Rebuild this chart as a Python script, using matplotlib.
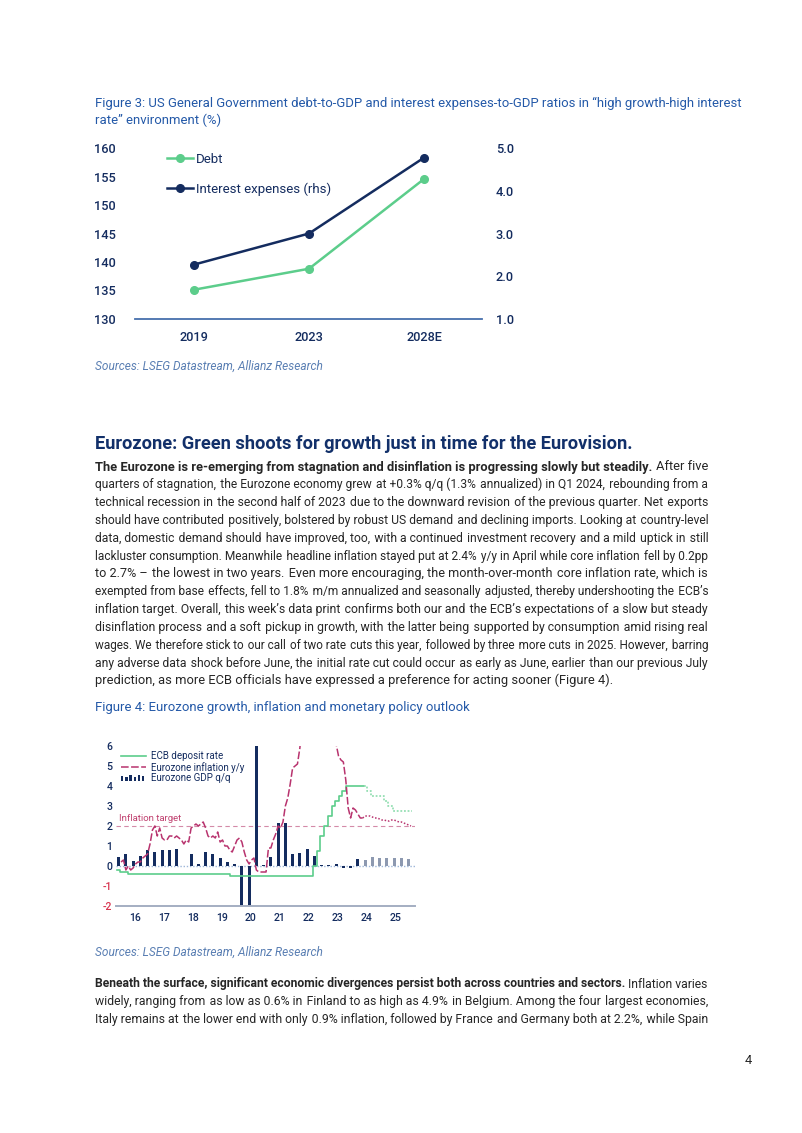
import numpy as np
import pandas as pd
import matplotlib
matplotlib.use("Agg")
import matplotlib.pyplot as plt
from matplotlib.font_manager import FontProperties
from matplotlib.legend_handler import HandlerBase
from matplotlib.patches import Rectangle
from matplotlib.lines import Line2D

# ---------------- data: Figure 3 ----------------
fig3_categories = ["2019", "2023", "2028E"]
fig3_debt = [135.1, 138.8, 154.6]            # % of GDP (lhs)
fig3_interest = [2.27, 3.0, 4.78]            # % of GDP (rhs)
fig3_left_ticks = [130, 135, 140, 145, 150, 155, 160]
fig3_right_ticks = [1.0, 2.0, 3.0, 4.0, 5.0]

# ---------------- data: Figure 4 ----------------
gdp_start, gdp_end = "2015Q4", "2024Q1"
gdp_actual = [0.47,
              0.62, 0.25, 0.50, 0.80,
              0.72, 0.80, 0.80, 0.85,
              0.00, 0.58, 0.08, 0.72,
              0.62, 0.40, 0.22, 0.10,
              -3.5, -11.6, 12.4, 0.03,
              0.47, 2.13, 2.13, 0.62,
              0.67, 0.87, 0.50, 0.05,
              0.07, 0.12, -0.10, -0.08,
              0.37]
gdp_fc_start, gdp_fc_end = "2024Q2", "2025Q4"
gdp_forecast = [0.28, 0.44, 0.42, 0.38, 0.38, 0.40, 0.37]

infl_start, infl_end = "2015-12", "2024-04"
infl_actual = [0.2,
               0.3, -0.2, 0.0, -0.2, -0.1, 0.1, 0.2, 0.2, 0.4, 0.5, 0.6, 1.1,
               1.8, 2.0, 1.5, 1.9, 1.4, 1.3, 1.3, 1.5, 1.5, 1.4, 1.5, 1.4,
               1.3, 1.1, 1.3, 1.2, 1.9, 2.0, 2.1, 2.0, 2.1, 2.2, 1.9, 1.5,
               1.4, 1.5, 1.4, 1.7, 1.2, 1.3, 1.0, 1.0, 0.8, 0.7, 1.0, 1.3,
               1.4, 1.2, 0.7, 0.3, 0.1, 0.3, 0.4, -0.2, -0.3, -0.3, -0.3, -0.3,
               0.9, 0.9, 1.3, 1.6, 2.0, 1.9, 2.2, 3.0, 3.4, 4.1, 4.9, 5.0,
               5.1, 5.9, 7.4, 7.4, 8.1, 8.6, 8.9, 9.1, 9.9, 10.6, 10.1, 9.2,
               8.6, 8.5, 6.9, 7.0, 6.1, 5.5, 5.3, 5.2, 4.3, 2.9, 2.4, 2.9,
               2.8, 2.6, 2.4, 2.4]
infl_fc_start, infl_fc_end = "2024-04", "2025-12"
infl_forecast = [2.4, 2.5, 2.5, 2.5, 2.45, 2.4, 2.4, 2.35, 2.3, 2.3, 2.25,
                 2.25, 2.3, 2.3, 2.25, 2.2, 2.2, 2.15, 2.1, 2.05, 2.0]

ecb_dates = ["2015-11-01", "2015-12-09", "2016-03-16", "2019-09-18",
             "2022-07-27", "2022-09-14", "2022-11-02", "2022-12-21",
             "2023-02-08", "2023-03-22", "2023-05-10", "2023-06-21",
             "2023-08-02", "2023-09-20", "2024-05-01"]
ecb_rates = [-0.2, -0.3, -0.4, -0.5, 0.0, 0.75, 1.5, 2.0, 2.5, 3.0,
             3.25, 3.5, 3.75, 4.0, 4.0]
ecb_fc_dates = ["2024-05-01", "2024-06-12", "2024-08-01", "2025-01-15",
                "2025-03-01", "2025-05-01", "2025-12-31"]
ecb_fc_rates = [4.0, 3.75, 3.5, 3.25, 3.0, 2.75, 2.75]

fig4_years = list(range(2016, 2026))
fig4_year_labels = [str(y)[2:] for y in fig4_years]
fig4_yticks = [-2, -1, 0, 1, 2, 3, 4, 5, 6]
inflation_target = 2.0

# ---------------- text ----------------
fig3_title = ["Figure 3: US General Government debt-to-GDP and interest expenses-to-GDP ratios in \u201chigh growth-high interest",
              "rate\u201d environment (%)"]
sources = "Sources: LSEG Datastream, Allianz Research"
heading = "Eurozone: Green shoots for growth just in time for the Eurovision."
par1 = [
    [("The Eurozone is re-emerging from stagnation and disinflation is progressing slowly but steadily.", True), ("After five", False)],
    [("quarters of stagnation, the Eurozone economy grew at +0.3% q/q (1.3% annualized) in Q1 2024, rebounding from a", False)],
    [("technical recession in the second half of 2023 due to the downward revision of the previous quarter. Net exports", False)],
    [("should have contributed positively, bolstered by robust US demand and declining imports. Looking at country-level", False)],
    [("data, domestic demand should have improved, too, with a continued investment recovery and a mild uptick in still", False)],
    [("lackluster consumption. Meanwhile headline inflation stayed put at 2.4% y/y in April while core inflation fell by 0.2pp", False)],
    [("to 2.7% \u2013 the lowest in two years. Even more encouraging, the month-over-month core inflation rate, which is", False)],
    [("exempted from base effects, fell to 1.8% m/m annualized and seasonally adjusted, thereby undershooting the ECB\u2019s", False)],
    [("inflation target. Overall, this week\u2019s data print confirms both our and the ECB\u2019s expectations of a slow but steady", False)],
    [("disinflation process and a soft pickup in growth, with the latter being supported by consumption amid rising real", False)],
    [("wages. We therefore stick to our call of two rate cuts this year, followed by three more cuts in 2025. However, barring", False)],
    [("any adverse data shock before June, the initial rate cut could occur as early as June, earlier than our previous July", False)],
    [("prediction, as more ECB officials have expressed a preference for acting sooner (Figure 4).", False)],
]
fig4_title = "Figure 4: Eurozone growth, inflation and monetary policy outlook"
par2 = [
    [("Beneath the surface, significant economic divergences persist both across countries and sectors.", True), ("Inflation varies", False)],
    [("widely, ranging from as low as 0.6% in Finland to as high as 4.9% in Belgium. Among the four largest economies,", False)],
    [("Italy remains at the lower end with only 0.9% inflation, followed by France and Germany both at 2.2%, while Spain", False)],
]
page_no = "4"

# ---------------- style ----------------
W, H, DPI = 802, 1133, 100
FONT = "Roboto"
FAMS = [FONT, "DejaVu Sans"]
plt.rcParams["font.family"] = FAMS
NAVY = "#142c5f"
TITLE_BLUE = "#2459a8"
HEAD_NAVY = "#12306a"
BODY = "#262626"
SRC = "#5a7fb3"
GREEN = "#5ccd8b"
GREEN_FC = "#96dfb4"
PINK = "#b8336e"
RED = "#d8344f"
GREY_BAR = "#8d99b0"
HAIR = "\u200a"

fig = plt.figure(figsize=(W / DPI, H / DPI), dpi=DPI)
fig.patch.set_facecolor("white")
renderer = fig.canvas.get_renderer()


def tw(s, size, weight="normal", style="normal"):
    fp = FontProperties(family=FAMS, size=size, weight=weight, style=style)
    w, h, d = renderer.get_text_width_height_descent(s, fp, ismath=False)
    return w


def put(x, y, s, size, color, weight="normal", style="normal", ha="left"):
    fig.text(x / W, 1 - y / H, s, fontsize=round(size, 2), color=color,
             fontweight=weight, fontstyle=style, ha=ha, va="baseline")


def fit(s, target, base, weight="normal", style="normal"):
    return round(base * target / tw(s, base, weight, style), 2)


def gap_strings(n, extra, sz):
    """n gaps that must together add `extra` px beyond normal spaces."""
    w_h = tw("a" + HAIR + "a", sz) - tw("aa", sz)
    out, err = [], 0.0
    for _ in range(n):
        want = extra / n + err
        k = max(0, int(round(want / w_h))) if w_h > 0 else 0
        err = want - k * w_h
        out.append(" " + HAIR * k)
    return out


def paragraph(lines, x0, x1, y0, dy, size, color, last_left=True):
    for i, segs in enumerate(lines):
        y = y0 + i * dy
        sz = size
        is_last = last_left and i == len(lines) - 1
        seg_words = [(text.split(), "bold" if bold else "normal") for text, bold in segs]
        natural = sum(tw(" ".join(ws), sz, wt) for ws, wt in seg_words)
        space = tw("a a", sz) - tw("aa", sz)
        natural += space * (len(seg_words) - 1)
        n_gaps = sum(len(ws) for ws, _ in seg_words) - 1
        if is_last:
            extra = 0.0
        else:
            if natural > x1 - x0:
                sz = round(sz * (x1 - x0) / natural, 2)
                natural = sum(tw(" ".join(ws), sz, wt) for ws, wt in seg_words)
                space = tw("a a", sz) - tw("aa", sz)
                natural += space * (len(seg_words) - 1)
            extra = max(0.0, (x1 - x0) - natural)
        gaps = gap_strings(n_gaps, extra, sz)
        x = x0
        gi = 0
        for si, (ws, wt) in enumerate(seg_words):
            s = ws[0]
            for wd in ws[1:]:
                s += gaps[gi] + wd
                gi += 1
            put(x, y, s, sz, color, weight=wt)
            x += tw(s, sz, wt)
            if si < len(seg_words) - 1:
                x += tw("a" + gaps[gi] + "a", sz) - tw("aa", sz)
                gi += 1


# ---------------- page text ----------------
sz_t1 = fit(fig3_title[0], 648, 9.5)
put(95, 107.5, fig3_title[0], sz_t1, TITLE_BLUE)
put(95, 124.5, fig3_title[1], sz_t1, TITLE_BLUE)
sz_src = fit(sources, 227, 8.5, style="italic")
put(95, 370, sources, sz_src, SRC, style="italic")
put(95, 449, heading, fit(heading, 537, 13, weight="bold"), HEAD_NAVY, weight="bold")
body_sz = fit(par1[-1][0][0], 517, 9.5)
paragraph(par1, 95, 708, 470.5, 17.83, body_sz, BODY)
put(95, 711.5, fig4_title, fit(fig4_title, 375, 9.5), TITLE_BLUE)
put(95, 956, sources, sz_src, SRC, style="italic")
paragraph(par2, 95, 708, 987.5, 17.83, body_sz, BODY, last_left=False)
put(748, 1063.5, page_no, body_sz, BODY, ha="center")

# ---------------- Figure 3 chart ----------------
ax1 = fig.add_axes([135 / W, 1 - 318.7 / H, (482 - 135) / W, (318.7 - 148.3) / H])
ax1b = ax1.twinx()
xpos = np.arange(len(fig3_categories))
l_debt, = ax1.plot(xpos, fig3_debt, color=GREEN, lw=1.8, marker="o", ms=5.5,
                   label="Debt", clip_on=False, zorder=3)
l_int, = ax1b.plot(xpos, fig3_interest, color=NAVY, lw=1.8, marker="o", ms=5.5,
                   label="Interest expenses (rhs)", clip_on=False, zorder=3)
ax1.set_xlim(-0.513, 2.504)
ax1.set_ylim(fig3_left_ticks[0], fig3_left_ticks[-1])
ax1b.set_ylim(fig3_right_ticks[0], fig3_right_ticks[-1])
ax1.set_xticks(xpos)
ax1.set_xticklabels(fig3_categories)
ax1.set_yticks(fig3_left_ticks)
ax1.set_yticklabels([str(v) for v in fig3_left_ticks])
ax1b.set_yticks(fig3_right_ticks)
ax1b.set_yticklabels([f"{v:.1f}" for v in fig3_right_ticks])
for a in (ax1, ax1b):
    a.set_facecolor("none")
    for s in ("top", "left", "right", "bottom"):
        a.spines[s].set_visible(False)
    a.tick_params(length=0, labelsize=9.2, labelcolor=NAVY)
ax1.spines["bottom"].set_visible(True)
ax1.spines["bottom"].set_color("#4670ad")
ax1.spines["bottom"].set_linewidth(1.3)
ax1.tick_params(axis="x", pad=9)
ax1.tick_params(axis="y", pad=14)
ax1b.tick_params(axis="y", pad=10)
for lab in ax1.get_xticklabels() + ax1.get_yticklabels() + ax1b.get_yticklabels():
    lab.set_fontweight("medium")
fig.legend(handles=[l_debt, l_int], loc="upper left",
           bbox_to_anchor=(167 / W, 1 - 153 / H), bbox_transform=fig.transFigure,
           frameon=False, borderpad=0, borderaxespad=0, fontsize=9.5,
           handlelength=2.0, handletextpad=0.2, labelspacing=1.23,
           labelcolor=NAVY)

# ---------------- Figure 4 chart ----------------
x_left, x_right = 2015.80, 2026.10
px_per_year = 29.0
tick_off = 0.44
ax_l = 135 - (2016 + tick_off - x_left) * px_per_year
ax_r = 135 + (x_right - 2016 - tick_off) * px_per_year
ax2 = fig.add_axes([ax_l / W, 1 - 906 / H, (ax_r - ax_l) / W, (906 - 746) / H])


def q_pos(start, end):
    per = pd.period_range(start, end, freq="Q")
    return np.array([p.year + (p.quarter - 0.5) / 4 for p in per])


def m_pos(start, end):
    per = pd.period_range(start, end, freq="M")
    return np.array([p.year + (p.month - 0.5) / 12 for p in per])


def d_pos(dates):
    ts = pd.to_datetime(dates)
    return np.array([t.year + (t.dayofyear - 1) / 365.25 for t in ts])


bw = 0.105
ax2.bar(q_pos(gdp_start, gdp_end), gdp_actual, width=bw, color=NAVY, zorder=2)
ax2.bar(q_pos(gdp_fc_start, gdp_fc_end), gdp_forecast, width=bw, color=GREY_BAR, zorder=2)
ax2.axhline(0, color="#9db6d8", lw=1.0, ls=(0, (1, 1.3)), zorder=1)
ax2.axhline(inflation_target, color="#d48aa8", lw=0.8, ls=(0, (4, 3)), zorder=1)
ax2.plot(d_pos(ecb_dates), ecb_rates, drawstyle="steps-post", color=GREEN, lw=1.2, zorder=3)
ax2.plot(d_pos(ecb_fc_dates), ecb_fc_rates, drawstyle="steps-post", color=GREEN_FC,
         lw=1.3, ls=(0, (1, 1)), zorder=3)
ax2.plot(m_pos(infl_start, infl_end), infl_actual, color=PINK, lw=1.1,
         ls=(0, (5, 1.6)), zorder=4)
ax2.plot(m_pos(infl_fc_start, infl_fc_end), infl_forecast, color=PINK, lw=1.1,
         ls=(0, (1, 1.2)), zorder=4)
ax2.annotate("Inflation target", xy=(0, inflation_target),
             xycoords=("axes fraction", "data"), xytext=(2, 2.5),
             textcoords="offset points", va="bottom", ha="left",
             fontsize=6.8, color="#c0406f")
ax2.set_xlim(x_left, x_right)
ax2.set_ylim(fig4_yticks[0], fig4_yticks[-1])
ax2.set_xticks([y + tick_off for y in fig4_years])
ax2.set_xticklabels(fig4_year_labels)
ax2.set_yticks(fig4_yticks)
ax2.set_yticklabels([str(v) for v in fig4_yticks])
for s in ("top", "left", "right"):
    ax2.spines[s].set_visible(False)
ax2.spines["bottom"].set_color("#a4aec2")
ax2.spines["bottom"].set_linewidth(1.4)
ax2.tick_params(length=0, labelsize=7.6, labelcolor=NAVY)
ax2.tick_params(axis="x", pad=5)
ax2.tick_params(axis="y", pad=3)
for lab, v in zip(ax2.get_yticklabels(), fig4_yticks):
    lab.set_fontweight("medium")
    if v < 0:
        lab.set_color(RED)
for lab in ax2.get_xticklabels():
    lab.set_fontweight("medium")


class BarIconHandler(HandlerBase):
    def create_artists(self, legend, orig_handle, xdescent, ydescent, width,
                       height, fontsize, trans):
        rel = [0.85, 0.6, 1.0, 0.7, 1.0, 0.85]
        n = len(rel)
        step = width / n
        arts = []
        for i, r in enumerate(rel):
            arts.append(Rectangle((-xdescent + i * step, -ydescent), step * 0.55,
                                  height * r, facecolor=NAVY, edgecolor="none",
                                  transform=trans))
        return arts


h_ecb = Line2D([], [], color=GREEN, lw=1.2)
h_inf = Line2D([], [], color=PINK, lw=1.1, ls=(0, (5, 1.6)))
h_gdp = Rectangle((0, 0), 1, 1, facecolor=NAVY)
ax2.legend(handles=[h_ecb, h_inf, h_gdp],
           labels=["ECB deposit rate", "Eurozone inflation y/y", "Eurozone GDP q/q"],
           handler_map={h_gdp: BarIconHandler()},
           loc="upper left", bbox_to_anchor=(121 / W, 1 - 751 / H),
           bbox_transform=fig.transFigure, frameon=False, borderpad=0,
           borderaxespad=0, fontsize=7.0, handlelength=2.6, handleheight=0.6,
           handletextpad=0.45, labelspacing=0.08, labelcolor=NAVY)

fig.savefig("out.png", dpi=DPI, facecolor="white")
